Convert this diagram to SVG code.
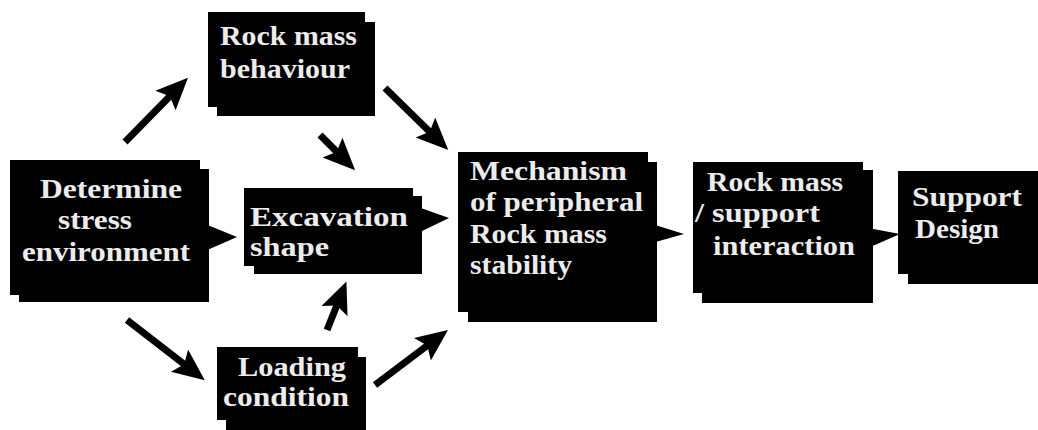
<svg xmlns="http://www.w3.org/2000/svg" width="1038" height="430" viewBox="0 0 1038 430">
<defs>
<style>
.box{fill:#000}
.t{font-family:"Liberation Serif","Times New Roman",serif;font-weight:bold;font-size:27px;fill:#ececec}
.arr{stroke:#000;stroke-width:7;fill:none;marker-end:url(#ah)}
.tab{fill:#000}
</style>
<marker id="ah" markerUnits="userSpaceOnUse" markerWidth="34" markerHeight="30" refX="12" refY="14" orient="auto" viewBox="0 0 34 30">
<path d="M0,0 L32,14 L0,28 L6,14 z" fill="#000"/>
</marker>
</defs>
<rect width="1038" height="430" fill="#fff"/>
<g id="connectors">
<line class="arr" x1="125" y1="142" x2="174" y2="92"/>
<line class="arr" x1="320" y1="135" x2="341" y2="156"/>
<line class="arr" x1="385" y1="88" x2="434" y2="136"/>
<line class="arr" x1="127" y1="320" x2="189" y2="368"/>
<line class="arr" x1="327" y1="330" x2="339" y2="300"/>
<line class="arr" x1="375" y1="385" x2="432" y2="342"/>
<polygon class="tab" points="205,224 237,237 205,251"/>
<polygon class="tab" points="418,207 449,218 418,233"/>
<polygon class="tab" points="652,224 684,234 652,243"/>
<polygon class="tab" points="868,228 900,234 868,248"/>
</g>
<g id="n-determine">
<rect class="box" x="19" y="169" width="190" height="133"/>
<rect class="box" x="10" y="160" width="190" height="135"/>
<text class="t" x="40" y="198" textLength="142" lengthAdjust="spacingAndGlyphs">Determine</text>
<text class="t" x="58" y="229" textLength="74" lengthAdjust="spacingAndGlyphs">stress</text>
<text class="t" x="22" y="261" textLength="168" lengthAdjust="spacingAndGlyphs">environment</text>
</g>
<g id="n-behaviour">
<rect class="box" x="217" y="22" width="158" height="94"/>
<rect class="box" x="208" y="12" width="157" height="95"/>
<text class="t" x="220" y="45" textLength="137" lengthAdjust="spacingAndGlyphs">Rock mass</text>
<text class="t" x="220" y="78" textLength="130" lengthAdjust="spacingAndGlyphs">behaviour</text>
</g>
<g id="n-excavation">
<rect class="box" x="254" y="196" width="168" height="78"/>
<rect class="box" x="244" y="188" width="169" height="78"/>
<text class="t" x="250" y="226" textLength="158" lengthAdjust="spacingAndGlyphs">Excavation</text>
<text class="t" x="250" y="256" textLength="79" lengthAdjust="spacingAndGlyphs">shape</text>
</g>
<g id="n-loading">
<rect class="box" x="226" y="357" width="140" height="73"/>
<rect class="box" x="217" y="347" width="141" height="73"/>
<text class="t" x="238" y="376" textLength="108" lengthAdjust="spacingAndGlyphs">Loading</text>
<text class="t" x="223" y="406" textLength="126" lengthAdjust="spacingAndGlyphs">condition</text>
</g>
<g id="n-mechanism">
<rect class="box" x="468" y="162" width="189" height="160"/>
<rect class="box" x="458" y="152" width="190" height="160"/>
<text class="t" x="470" y="180" textLength="157" lengthAdjust="spacingAndGlyphs">Mechanism</text>
<text class="t" x="470" y="211" textLength="173" lengthAdjust="spacingAndGlyphs">of peripheral</text>
<text class="t" x="470" y="243" textLength="137" lengthAdjust="spacingAndGlyphs">Rock mass</text>
<text class="t" x="470" y="274" textLength="102" lengthAdjust="spacingAndGlyphs">stability</text>
</g>
<g id="n-interaction">
<rect class="box" x="702" y="170" width="171" height="133"/>
<rect class="box" x="693" y="162" width="170" height="131"/>
<text class="t" x="707" y="191" textLength="136" lengthAdjust="spacingAndGlyphs">Rock mass</text>
<text class="t" x="695" y="222" textLength="125" lengthAdjust="spacingAndGlyphs">/ support</text>
<text class="t" x="713" y="255" textLength="142" lengthAdjust="spacingAndGlyphs">interaction</text>
</g>
<g id="n-support">
<rect class="box" x="908" y="179" width="130" height="105"/>
<rect class="box" x="898" y="171" width="140" height="103"/>
<text class="t" x="912" y="206" textLength="110" lengthAdjust="spacingAndGlyphs">Support</text>
<text class="t" x="915" y="238" textLength="84" lengthAdjust="spacingAndGlyphs">Design</text>
</g>
</svg>
